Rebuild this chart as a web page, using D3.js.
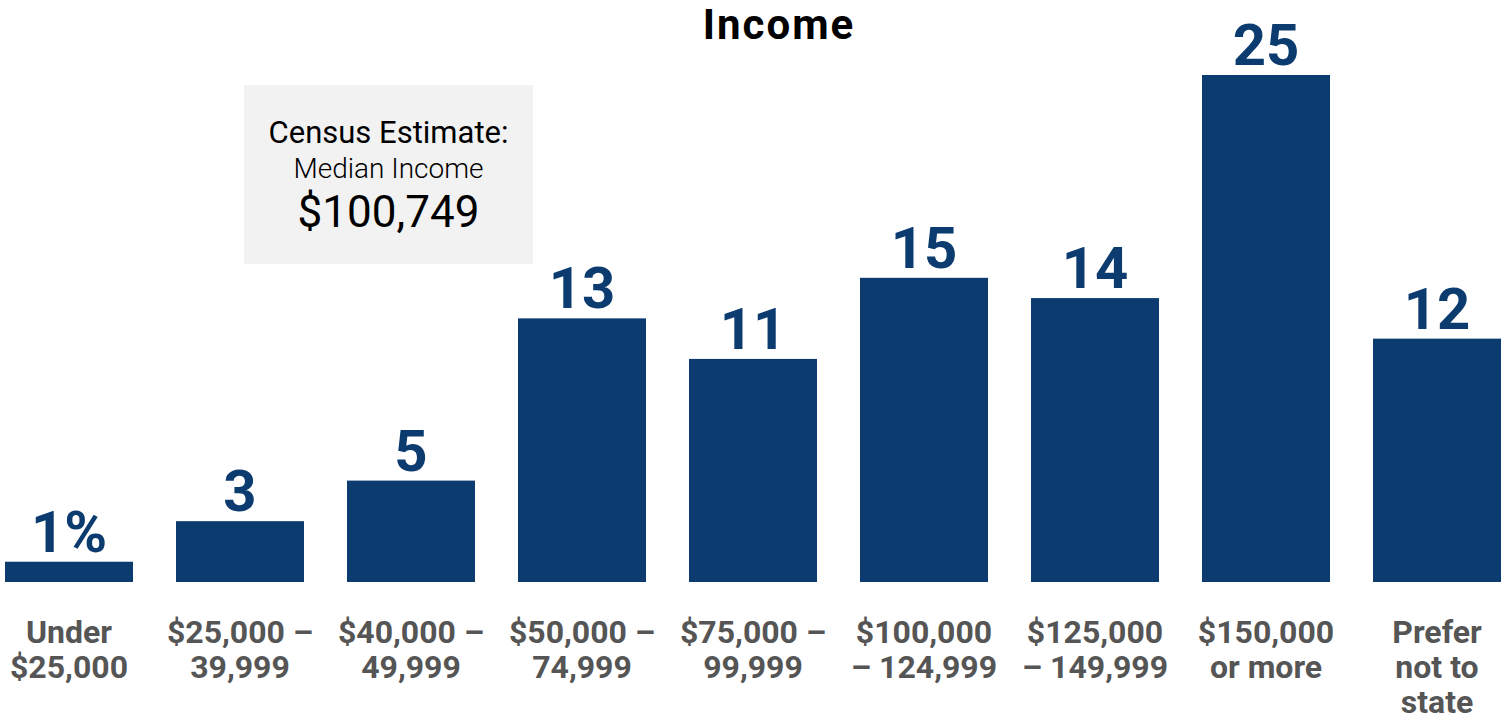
<!DOCTYPE html>
<html lang="en">
<head>
    <meta charset="UTF-8">
    <title>Income</title>
    <script src="https://d3js.org/d3.v7.min.js"></script>
    <style>
        body { margin: 0; background: #fff; }
        svg { display: block; font-family: Roboto, "Noto Sans", sans-serif; }
    </style>
</head>
<body>
    <div id="chart"></div>
    <script>
        // Data
        const categories = [
            ['Under', '$25,000'],
            ['$25,000 –', '39,999'],
            ['$40,000 –', '49,999'],
            ['$50,000 –', '74,999'],
            ['$75,000 –', '99,999'],
            ['$100,000', '– 124,999'],
            ['$125,000', '– 149,999'],
            ['$150,000', 'or more'],
            ['Prefer', 'not to', 'state']
        ];
        const values = [1, 3, 5, 13, 11, 15, 14, 25, 12];
        const valueLabels = ['1%', '3', '5', '13', '11', '15', '14', '25', '12'];
        const noteLines = ['Census Estimate:', 'Median Income', '$100,749'];

        const width = 1504, height = 720;
        const baseline = 582;
        const blue = '#0b3b6f';

        const svg = d3.select('#chart')
            .append('svg')
            .attr('width', width)
            .attr('height', height);

        const x = d3.scaleBand()
            .domain(d3.range(values.length))
            .range([5, 1501])
            .paddingInner(0.2515)
            .paddingOuter(0);

        const y = d3.scaleLinear()
            .domain([0, 25])
            .range([baseline, 75]);

        // title
        svg.append('text')
            .attr('x', 779)
            .attr('y', 39)
            .attr('text-anchor', 'middle')
            .attr('font-size', 42)
            .attr('font-weight', 700)
            .attr('letter-spacing', 2)
            .attr('fill', '#000')
            .text('Income');

        // bars
        svg.selectAll('.bar')
            .data(values)
            .enter().append('rect')
            .attr('class', 'bar')
            .attr('x', (d, i) => x(i))
            .attr('y', d => y(d))
            .attr('width', x.bandwidth())
            .attr('height', d => baseline - y(d))
            .attr('fill', blue);

        // value labels
        svg.selectAll('.val')
            .data(values)
            .enter().append('text')
            .attr('class', 'val')
            .attr('x', (d, i) => x(i) + x.bandwidth() / 2)
            .attr('y', d => y(d) - 10)
            .attr('text-anchor', 'middle')
            .attr('font-size', 58)
            .attr('font-weight', 700)
            .attr('fill', blue)
            .text((d, i) => valueLabels[i]);

        // category labels
        const cat = svg.selectAll('.cat')
            .data(categories)
            .enter().append('text')
            .attr('class', 'cat')
            .attr('text-anchor', 'middle')
            .attr('font-size', 32)
            .attr('font-weight', 700)
            .attr('fill', '#555');

        cat.selectAll('tspan')
            .data((d, i) => d.map(t => ({ t, i })))
            .enter().append('tspan')
            .attr('x', d => x(d.i) + x.bandwidth() / 2)
            .attr('y', (d, j) => 643 + j * 35)
            .text(d => d.t);

        // census estimate box
        const note = svg.append('g');
        note.append('rect')
            .attr('x', 244)
            .attr('y', 85)
            .attr('width', 289)
            .attr('height', 179)
            .attr('fill', '#f2f2f2');

        const noteStyles = [
            { y: 143, size: 31, weight: 400 },
            { y: 178, size: 28, weight: 300 },
            { y: 227, size: 44, weight: 400 }
        ];
        note.selectAll('text')
            .data(noteLines)
            .enter().append('text')
            .attr('x', 388.5)
            .attr('y', (d, i) => noteStyles[i].y)
            .attr('text-anchor', 'middle')
            .attr('font-size', (d, i) => noteStyles[i].size)
            .attr('font-weight', (d, i) => noteStyles[i].weight)
            .attr('fill', '#000')
            .text(d => d);
    </script>
</body>
</html>
